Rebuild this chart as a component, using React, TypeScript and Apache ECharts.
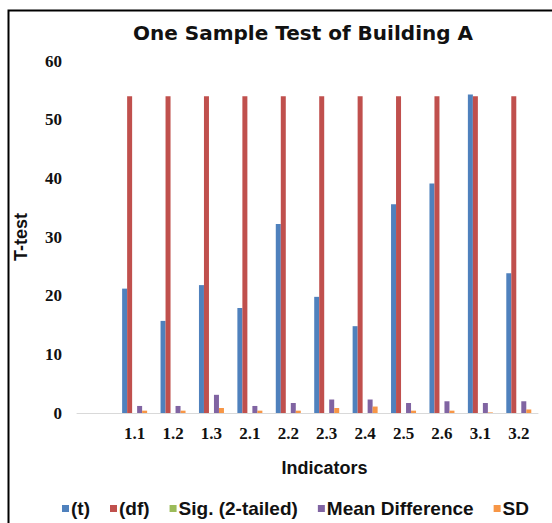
import React, { useEffect, useRef } from "react";
import * as echarts from "echarts";

const indicators = ["1.1", "1.2", "1.3", "2.1", "2.2", "2.3", "2.4", "2.5", "2.6", "3.1", "3.2"];
const tValues = [21.2, 15.7, 21.8, 17.9, 32.2, 19.8, 14.8, 35.6, 39.1, 54.3, 23.8];
const dfValues = [54, 54, 54, 54, 54, 54, 54, 54, 54, 54, 54];
const sigValues = [0, 0, 0, 0, 0, 0, 0, 0, 0, 0, 0];
const meanDiffValues = [1.2, 1.2, 3.1, 1.2, 1.7, 2.3, 2.3, 1.7, 2.0, 1.7, 2.0];
const sdValues = [0.4, 0.4, 0.85, 0.4, 0.4, 0.85, 1.1, 0.4, 0.4, 0.1, 0.6];
const yTicks = { min: 0, max: 60, interval: 10 };

const seriesDefs = [
  { name: "(t)", data: tValues, color: "#4F81BD" },
  { name: "(df)", data: dfValues, color: "#C0504D" },
  { name: "Sig. (2-tailed)", data: sigValues, color: "#9BBB59" },
  { name: "Mean Difference", data: meanDiffValues, color: "#8064A2" },
  { name: "SD", data: sdValues, color: "#F79646" },
];

export default function App() {
  const ref = useRef<HTMLDivElement>(null);
  useEffect(() => {
    document.body.style.margin = "0";
    if (!ref.current) return;
    const chart = echarts.init(ref.current, null, { renderer: "svg" });
    const cats = [""].concat(indicators);
    chart.setOption({
      animation: false,
      backgroundColor: "#ffffff",
      title: {
        text: "One Sample Test of Building A",
        left: 303,
        textAlign: "center",
        top: 23,
        padding: 0,
        textStyle: { fontFamily: "DejaVu Sans", fontWeight: "bold", fontSize: 20, color: "#111" },
      },
      graphic: [
        {
          type: "rect",
          shape: { x: 8.5, y: 10.5, width: 600, height: 600 },
          style: { fill: "none", stroke: "#000", lineWidth: 2 },
          silent: true,
        },
      ],
      legend: {
        left: 57,
        top: 494,
        itemWidth: 7,
        itemHeight: 7,
        itemGap: 20,
        icon: "rect",
        textStyle: { fontFamily: "Liberation Sans", fontWeight: "bold", fontSize: 19, color: "#111", padding: [0, 0, 0, -3] },
        data: seriesDefs.map((s) => s.name),
      },
      grid: { left: 77, right: 14, top: 61, bottom: 110, containLabel: false },
      xAxis: {
        type: "category",
        data: cats,
        name: "Indicators",
        nameLocation: "middle",
        nameGap: 46,
        nameTextStyle: { fontFamily: "Liberation Sans", fontWeight: "bold", fontSize: 18, color: "#111", padding: [0, 0, 0, 34] },
        axisLine: { show: true, lineStyle: { color: "#d9d9d9", width: 1 } },
        axisTick: { show: false },
        axisLabel: { fontFamily: "Liberation Serif", fontWeight: "bold", fontSize: 17, color: "#111", margin: 12, interval: 0 },
        splitLine: { show: false },
      },
      yAxis: {
        type: "value",
        min: yTicks.min,
        max: yTicks.max,
        interval: yTicks.interval,
        name: "T-test",
        nameLocation: "middle",
        nameGap: 47,
        nameRotate: 90,
        nameTextStyle: { fontFamily: "Liberation Sans", fontWeight: "bold", fontSize: 18, color: "#111" },
        axisLine: { show: false },
        axisTick: { show: false },
        axisLabel: { fontFamily: "Liberation Serif", fontWeight: "bold", fontSize: 17, color: "#111", margin: 15 },
        splitLine: { show: false },
      },
      series: seriesDefs.map((s) => ({
        name: s.name,
        type: "bar",
        data: [null].concat(s.data as any),
        barWidth: 5,
        barGap: "0%",
        itemStyle: { color: s.color },
      })),
    });
    return () => chart.dispose();
  }, []);
  return <div ref={ref} style={{ width: 552, height: 523 }} />;
}
